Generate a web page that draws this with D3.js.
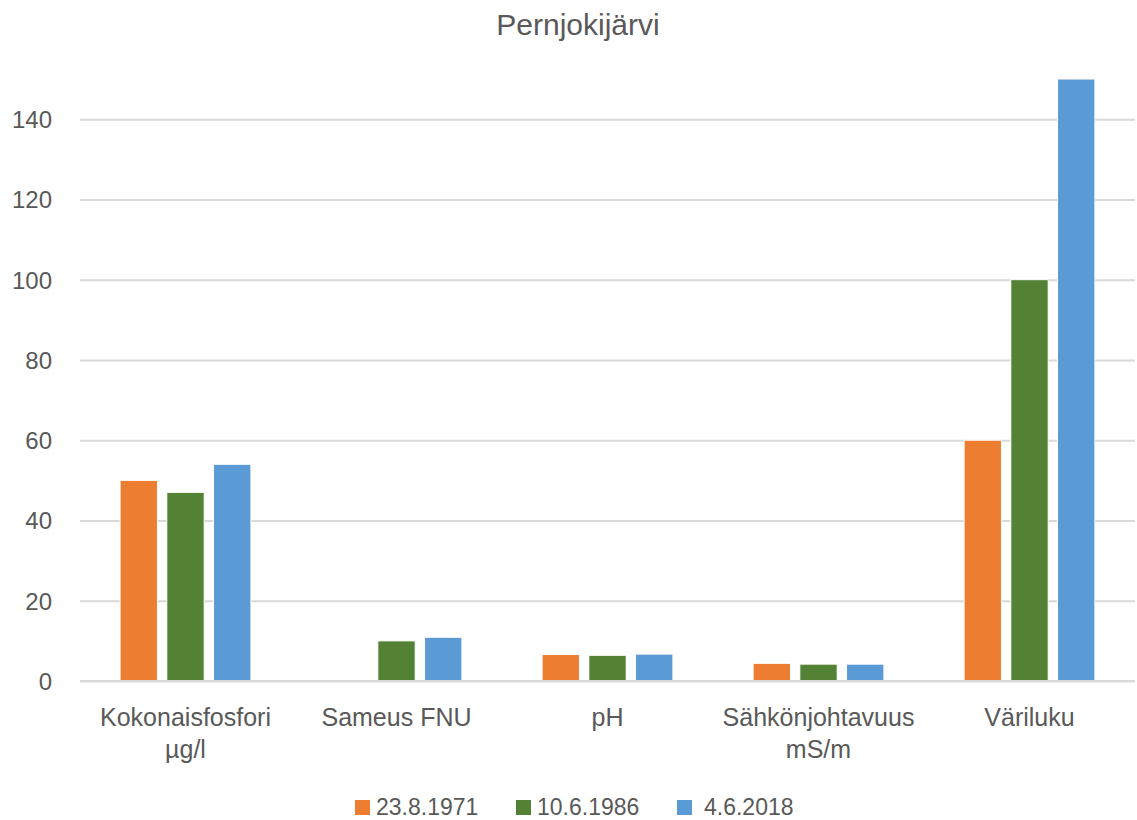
<!DOCTYPE html>
<html><head><meta charset="utf-8">
<script src="https://cdn.jsdelivr.net/npm/d3@7/dist/d3.min.js"></script>
<style>body{margin:0;background:#fff}text{font-family:"Liberation Sans Narrow","Arial Narrow","Liberation Sans",sans-serif;fill:#595959}</style>
</head><body><svg id="c" width="1137" height="820"></svg>
<script>
const title = "Pernjokijärvi";
const categories = [["Kokonaisfosfori","µg/l"],["Sameus FNU"],["pH"],["Sähkönjohtavuus","mS/m"],["Väriluku"]];
const seriesNames = ["23.8.1971","10.6.1986","4.6.2018"];
const colors = ["#ED7D31","#548235","#5B9BD5"];
const s1971 = [50, null, 6.6, 4.4, 60];
const s1986 = [47, 10, 6.4, 4.2, 100];
const s2018 = [54, 10.9, 6.7, 4.2, 150];
const yTicks = [0,20,40,60,80,100,120,140];
const series = [s1971, s1986, s2018];

const svg = d3.select("#c");
const m = {l:80, r:2, t:79, b:139};
const W = 1137, H = 820;
const x0 = d3.scaleBand().domain(d3.range(categories.length)).range([m.l, W-m.r]).paddingInner(0.38).paddingOuter(0.19);
const x1 = d3.scaleBand().domain(d3.range(series.length)).range([0, x0.bandwidth()]).paddingInner(0.2);
const y = d3.scaleLinear().domain([0,150]).range([H-m.b, m.t]);

svg.append("text").attr("x",578).attr("y",35).attr("text-anchor","middle").attr("font-size",30).text(title);

const yAxis = svg.append("g").attr("transform",`translate(${m.l},0)`)
  .call(d3.axisLeft(y).tickValues(yTicks).tickSize(-(W-m.l-m.r)).tickPadding(28));
yAxis.select(".domain").remove();
yAxis.selectAll(".tick line").attr("stroke","#D9D9D9").attr("stroke-width",2);
yAxis.selectAll(".tick text").attr("font-size",24).attr("fill","#595959").attr("dy","0.35em");

const g = svg.append("g");
series.forEach((s,si)=>{
  g.selectAll(null).data(s.map((v,i)=>({v,i})).filter(d=>d.v!=null)).enter().append("rect")
    .attr("x",d=>x0(d.i)+x1(si)).attr("width",x1.bandwidth())
    .attr("y",d=>y(d.v)).attr("height",d=>y(0)-y(d.v))
    .attr("fill",colors[si]).attr("stroke","#fff").attr("stroke-width",1);
});
svg.append("line").attr("x1",m.l).attr("x2",W-m.r).attr("y1",y(0)).attr("y2",y(0)).attr("stroke","#D9D9D9").attr("stroke-width",2);

const cx = i=>x0(i)+x0.bandwidth()/2;
categories.forEach((lines,i)=>{
  const t = svg.append("text").attr("text-anchor","middle").attr("font-size",25);
  lines.forEach((ln,k)=>t.append("tspan").attr("x",cx(i)).attr("y",726+k*32).text(ln));
});

const legX = [355, 516, 677];
seriesNames.forEach((n,i)=>{
  svg.append("rect").attr("x",legX[i]).attr("y",800).attr("width",15).attr("height",15).attr("fill",colors[i]);
  svg.append("text").attr("x",legX[i]+(i==2?27:21)).attr("y",815).attr("font-size",23).text(n);
});
</script></body></html>
